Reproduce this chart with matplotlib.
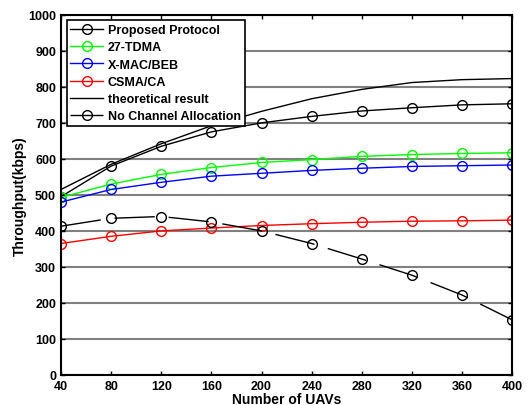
import numpy as np
import matplotlib
matplotlib.use("Agg")
import matplotlib.pyplot as plt

# data
n_uavs = [40, 80, 120, 160, 200, 240, 280, 320, 360, 400]
proposed = [495, 580, 635, 675, 700, 718, 733, 742, 750, 753]
tdma27 = [493, 530, 557, 576, 590, 598, 607, 612, 615, 617]
xmac_beb = [480, 515, 535, 552, 560, 568, 574, 579, 581, 583]
csma_ca = [365, 385, 400, 408, 415, 420, 424, 427, 428, 430]
theoretical = [515, 585, 642, 692, 732, 767, 793, 812, 820, 823]
no_alloc = [413, 435, 440, 425, 400, 365, 322, 277, 222, 153]

plt.rcParams['font.family'] = ['Liberation Sans', 'DejaVu Sans']
plt.rcParams['font.weight'] = 'bold'

fig = plt.figure(figsize=(5.28, 4.06), dpi=100)
ax = fig.add_axes([0.1155, 0.074, 0.8545, 0.887])

mk = dict(marker='o', markersize=7, markerfacecolor='none', linewidth=1.0)
ax.plot(n_uavs, proposed, color='black', markeredgecolor='black', label='Proposed Protocol', **mk)
ax.plot(n_uavs, tdma27, color='#00ff00', markeredgecolor='#00ff00', label='27-TDMA', **mk)
ax.plot(n_uavs, xmac_beb, color='blue', markeredgecolor='blue', label='X-MAC/BEB', **mk)
ax.plot(n_uavs, csma_ca, color='red', markeredgecolor='red', label='CSMA/CA', **mk)
ax.plot(n_uavs, theoretical, color='black', linewidth=1.0, label='theoretical result')
ax.plot(n_uavs, no_alloc, color='black', markeredgecolor='black', dashes=(29, 10),
        label='No Channel Allocation', **mk)

ax.set_xlim(40, 400)
ax.set_ylim(0, 1000)
ax.set_xticks(np.arange(40, 401, 40))
ax.set_yticks(np.arange(0, 1001, 100))
ax.yaxis.grid(True, color='#808080', linewidth=1.5)
ax.set_axisbelow(True)
ax.tick_params(direction='in', labelsize=9, length=3, width=1, top=True, right=True)
for lbl in ax.get_xticklabels() + ax.get_yticklabels():
    lbl.set_fontweight('bold')
for s in ax.spines.values():
    s.set_linewidth(1.5)

ax.set_xlabel('Number of UAVs', fontsize=10, fontweight='bold', labelpad=0)
ax.set_ylabel('Throughput(kbps)', fontsize=10, fontweight='bold', labelpad=1)

leg = ax.legend(loc='upper left', frameon=True, fancybox=False,
                borderaxespad=0.45, handlelength=2.6, handletextpad=0.4,
                labelspacing=0.42, borderpad=0.3, prop={'weight': 'bold', 'size': 9})
leg.get_frame().set_edgecolor('black')
leg.get_frame().set_linewidth(1.2)
leg.get_frame().set_alpha(1)

fig.savefig('out.png', dpi=100)
